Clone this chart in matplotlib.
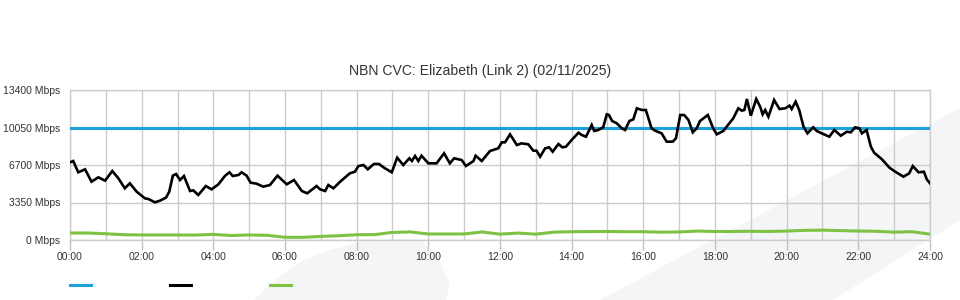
import matplotlib
matplotlib.use("Agg")
import matplotlib.pyplot as plt
from matplotlib.lines import Line2D
from matplotlib.patches import Polygon
from matplotlib.ticker import MultipleLocator, FixedLocator

plt.rcParams['font.family'] = ['Liberation Sans', 'DejaVu Sans']

title = "NBN CVC: Elizabeth (Link 2) (02/11/2025)"
y_ticks = [0, 3350, 6700, 10050, 13400]
y_tick_labels = ["0 Mbps", "3350 Mbps", "6700 Mbps", "10050 Mbps", "13400 Mbps"]
x_ticks = [0, 2, 4, 6, 8, 10, 12, 14, 16, 18, 20, 22, 24]
x_tick_labels = ["00:00", "02:00", "04:00", "06:00", "08:00", "10:00", "12:00",
                 "14:00", "16:00", "18:00", "20:00", "22:00", "24:00"]

capacity_mbps = 10050

black_hours = [
    0.00, 0.09, 0.23, 0.42, 0.60, 0.79, 0.98, 1.18, 1.35, 1.53, 1.67, 1.86, 2.09, 2.19,
    2.37, 2.51, 2.68, 2.77, 2.87, 2.96, 3.07, 3.18, 3.35, 3.44, 3.58, 3.79, 3.95, 4.14,
    4.33, 4.45, 4.54, 4.70, 4.79, 4.93, 5.04, 5.21, 5.39, 5.58, 5.79, 6.05, 6.25, 6.47,
    6.62, 6.88, 6.98, 7.12, 7.21, 7.35, 7.54, 7.81, 7.95, 8.05, 8.19, 8.31, 8.48, 8.62,
    8.79, 8.98, 9.13, 9.30, 9.47, 9.54, 9.63, 9.72, 9.81, 10.00, 10.23, 10.44, 10.60,
    10.72, 10.93, 11.05, 11.26, 11.32, 11.49, 11.72, 11.95, 12.05, 12.14, 12.28, 12.47,
    12.60, 12.79, 12.93, 13.02, 13.12, 13.26, 13.37, 13.47, 13.63, 13.74, 13.84, 14.00,
    14.19, 14.28, 14.40, 14.56, 14.63, 14.74, 14.88, 14.98, 15.04, 15.13, 15.26, 15.40,
    15.49, 15.61, 15.72, 15.82, 15.96, 16.07, 16.23, 16.33, 16.51, 16.65, 16.82, 16.91,
    17.03, 17.14, 17.26, 17.38, 17.49, 17.58, 17.80, 17.95, 18.05, 18.23, 18.34, 18.51,
    18.65, 18.75, 18.82, 18.89, 19.00, 19.15, 19.26, 19.33, 19.40, 19.49, 19.65, 19.80,
    19.96, 20.08, 20.14, 20.25, 20.35, 20.47, 20.58, 20.74, 20.84, 21.02, 21.19, 21.33,
    21.51, 21.68, 21.79, 21.91, 22.03, 22.10, 22.23, 22.35, 22.44, 22.65, 22.87, 23.03,
    23.26, 23.42, 23.52, 23.68, 23.83, 23.91, 24.00]
black_mbps = [
    6940, 7057, 6047, 6315, 5210, 5600, 5300, 6164, 5510, 4617, 5064, 4316, 3722, 3662,
    3365, 3514, 3782, 4316, 5746, 5896, 5360, 5717, 4377, 4436, 4020, 4824, 4526, 4973,
    5746, 6047, 5717, 5806, 6047, 5746, 5120, 5030, 4764, 4913, 5746, 4973, 5360, 4377,
    4168, 4824, 4526, 4377, 4913, 4617, 5210, 5955, 6100, 6610, 6700, 6315, 6790, 6790,
    6405, 6047, 7352, 6700, 7298, 7057, 7504, 7057, 7530, 6850, 6850, 7745, 6850,
    7298, 7146, 6610, 7057, 7530, 7057, 7950, 8190, 8725, 8725, 9440, 8487,
    8635, 8547, 7977, 7977, 7443, 8190, 8280, 7888, 8576, 8280, 8335, 8933,
    9585, 9380, 9228, 10273, 9737, 9826, 10068, 11229, 11166, 10630, 10425, 9978,
    9826, 10630, 10782, 11765, 11613, 11613, 9978, 9764, 9530, 8785, 8785, 9085,
    11166, 11166, 10720, 9620, 9978, 10630, 11166, 9978, 9442, 9737, 10184, 10871,
    11765, 11553, 11613, 12596, 11104, 12596, 11910, 11229, 11613, 11017, 12506, 11702,
    11765, 12000, 11702, 12356, 11613, 10124, 9530, 10068, 9737, 9469, 9228, 9826,
    9317, 9675, 9620, 10068, 9978, 9530, 9826, 8335, 7800, 7236, 6460, 6100,
    5657, 5955, 6610, 6047, 6100, 5420, 5064]

green_hours = [0.0, 0.5, 1.0, 1.5, 2.0, 2.5, 3.0, 3.5, 4.0, 4.5, 5.0, 5.5, 6.0, 6.5,
               7.0, 7.5, 8.0, 8.5, 9.0, 9.5, 10.0, 10.5, 11.0, 11.5, 12.0, 12.5, 13.0,
               13.5, 14.0, 14.5, 15.0, 15.5, 16.0, 16.5, 17.0, 17.5, 18.0, 18.5, 19.0,
               19.5, 20.0, 20.5, 21.0, 21.5, 22.0, 22.5, 23.0, 23.5, 24.0]
green_mbps = [625, 625, 560, 470, 450, 450, 450, 440, 500, 400, 450, 420, 240, 240,
              320, 380, 470, 480, 680, 720, 536, 536, 540, 720, 520, 620, 520,
              700, 740, 750, 760, 740, 740, 700, 720, 800, 760, 760, 780,
              760, 800, 860, 880, 840, 800, 780, 700, 740, 520]

blue_c = '#1ca1db'
black_c = '#000000'
green_c = '#7dc242'
grid_c = '#cccccc'
text_c = '#333333'

fig = plt.figure(figsize=(9.6, 3.0), dpi=100)
fig.patch.set_facecolor('white')

# background watermark swoosh shapes (figure pixel coords -> fraction)
def fp(pts):
    return [(x / 960, 1 - y / 300) for x, y in pts]

wm_c = '#f4f5f7'
fig.patches.append(Polygon(fp([(600, 300), (960, 108), (960, 220), (833, 300)]),
                           closed=True, transform=fig.transFigure,
                           facecolor=wm_c, edgecolor='none', zorder=-5))
fig.patches.append(Polygon(fp([(254, 300), (275, 280), (300, 262), (330, 250), (360, 242),
                               (395, 239), (420, 240), (437, 255), (450, 285), (446, 300)]),
                           closed=True, transform=fig.transFigure,
                           facecolor=wm_c, edgecolor='none', zorder=-5))

ax = fig.add_axes([70 / 960, 1 - 240 / 300, 860 / 960, 150 / 300])
ax.set_zorder(1)
ax.set_facecolor('none')
ax.patch.set_alpha(0)

ax.set_xlim(0, 24)
ax.set_ylim(0, 13400)

ax.plot(black_hours, black_mbps, color=black_c, lw=1.9, zorder=4,
        solid_joinstyle='miter')
ax.axhline(capacity_mbps, color=blue_c, lw=2.2, zorder=3)
ax.plot(green_hours, green_mbps, color=green_c, lw=2.2, zorder=3)

ax.xaxis.set_major_locator(FixedLocator(x_ticks))
ax.set_xticklabels(x_tick_labels)
ax.xaxis.set_minor_locator(MultipleLocator(1))
ax.set_yticks(y_ticks)
ax.set_yticklabels(y_tick_labels)

ax.grid(which='both', axis='x', color=grid_c, lw=1.0, zorder=1)
ax.grid(which='major', axis='y', color=grid_c, lw=1.0, zorder=1)
ax.set_axisbelow(True)

ax.tick_params(axis='x', which='major', length=7.2, width=1, color='#c0c0c0',
               pad=1.5, labelsize=7.5, labelcolor=text_c)
ax.tick_params(axis='x', which='minor', length=0)
ax.tick_params(axis='y', length=0, pad=7.2, labelsize=7.5, labelcolor=text_c)

for s in ax.spines.values():
    s.set_color(grid_c)
    s.set_linewidth(1.0)

fig.text(480 / 960, 1 - 71 / 300, title, ha='center', va='center',
         fontsize=10.1, color=text_c)

# legend swatches
for x0, c in [(70, blue_c), (170, black_c), (270, green_c)]:
    fig.add_artist(Line2D([x0 / 960, (x0 + 21) / 960], [1 - 285 / 300, 1 - 285 / 300],
                          transform=fig.transFigure, color=c, lw=2.2))

fig.savefig('out.png', dpi=100, facecolor='white')
